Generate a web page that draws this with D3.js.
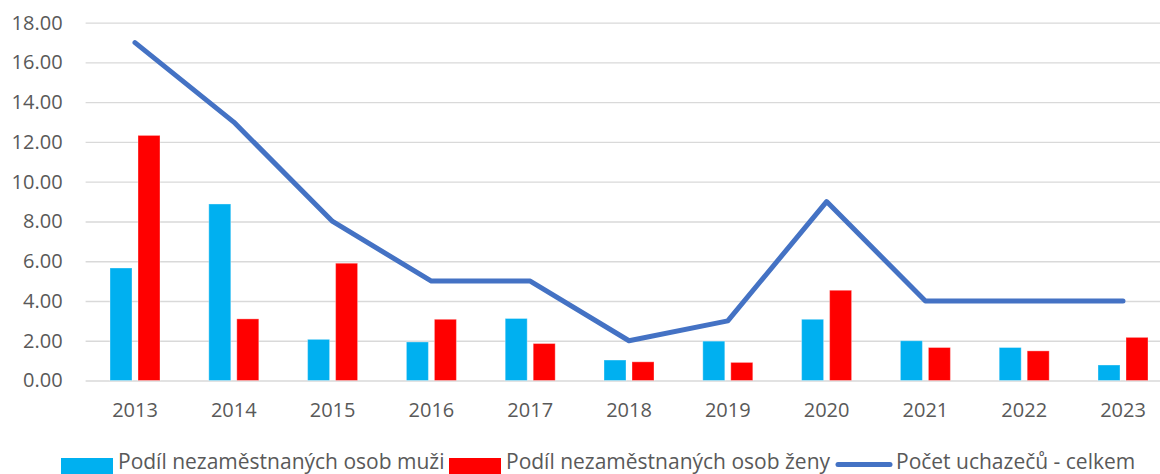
<!DOCTYPE html>
<html>
<head>
<meta charset="utf-8">
<script src="https://cdn.jsdelivr.net/npm/d3@7"></script>
<style>
  body { margin: 0; background: #fff; }
  svg text { font-family: "Open Sans", sans-serif; fill: #595959; }
</style>
</head>
<body>
<div id="chart"></div>
<script>
// data
var years = ["2013", "2014", "2015", "2016", "2017", "2018", "2019", "2020", "2021", "2022", "2023"];
var muzi  = [5.66, 8.88, 2.07, 1.94, 3.12, 1.03, 1.98, 3.08, 2.00, 1.66, 0.78];
var zeny  = [12.33, 3.10, 5.90, 3.08, 1.86, 0.94, 0.91, 4.54, 1.66, 1.49, 2.17];
var celkem = [17, 13, 8, 5, 5, 2, 3, 9, 4, 4, 4];
var yTicks = [0, 2, 4, 6, 8, 10, 12, 14, 16, 18];
var seriesNames = ["Podíl nezaměstnaných osob muži", "Podíl nezaměstnaných osob ženy", "Počet uchazečů - celkem"];

var width = 1160, height = 474;
var colMuzi = "#00b0f0", colZeny = "#ff0000", colLine = "#4472c4";

var svg = d3.select("#chart").append("svg")
    .attr("width", width)
    .attr("height", height);

var x0 = d3.scaleBand().domain(years).range([85.6, 1172.4]);
var x1 = d3.scaleBand().domain(["m", "z"])
    .range([24.4, 74.4])
    .paddingInner(6 / 28);

var y = d3.scaleLinear().domain([0, 18]).range([380.5, 22.7]);

// gridlines + y labels
var yAxis = d3.axisLeft(y)
    .tickValues(yTicks)
    .tickFormat(d3.format(".2f"))
    .tickSize(-(width - 85.6))
    .tickPadding(23);

svg.append("g")
    .attr("class", "y axis")
    .attr("transform", "translate(85.6,0)")
    .call(yAxis)
    .call(function(g) {
      g.select(".domain").remove();
      g.selectAll("line").attr("stroke", "#d9d9d9").attr("stroke-width", 1.3);
      g.selectAll("text").attr("font-size", 20).attr("fill", "#595959");
    });

// x labels
var xAxis = d3.axisBottom(x0).tickSize(0).tickPadding(22);
svg.append("g")
    .attr("class", "x axis")
    .attr("transform", "translate(0,380.5)")
    .call(xAxis)
    .call(function(g) {
      g.select(".domain").remove();
      g.selectAll("text").attr("font-size", 20).attr("fill", "#595959");
    });

// bars
var rows = years.map(function(yr, i) {
  return {year: yr, vals: [{k: "m", v: muzi[i], c: colMuzi}, {k: "z", v: zeny[i], c: colZeny}]};
});

svg.append("g").selectAll("g")
    .data(rows)
    .enter()
    .append("g")
    .attr("transform", function(d) { return "translate(" + x0(d.year) + ",0)"; })
    .selectAll("rect")
    .data(function(d) { return d.vals; })
    .enter()
    .append("rect")
    .attr("x", function(d) { return x1(d.k); })
    .attr("width", x1.bandwidth())
    .attr("y", function(d) { return y(d.v); })
    .attr("height", function(d) { return y(0) - y(d.v); })
    .attr("fill", function(d) { return d.c; })
    .attr("stroke", "#ffffff")
    .attr("stroke-opacity", 0.35)
    .attr("stroke-width", 1);

// line
var line = d3.line()
    .x(function(d, i) { return x0(years[i]) + x0.bandwidth() / 2; })
    .y(function(d) { return y(d); });

svg.append("path")
    .datum(celkem)
    .attr("d", line)
    .attr("fill", "none")
    .attr("stroke", colLine)
    .attr("stroke-width", 5)
    .attr("stroke-linecap", "round")
    .attr("stroke-linejoin", "round");

// legend
var legend = svg.append("g").attr("class", "legend");
var lx = [61, 449, 836];

legend.append("rect").attr("x", lx[0]).attr("y", 458).attr("width", 52).attr("height", 16).attr("fill", colMuzi);
legend.append("rect").attr("x", lx[1]).attr("y", 458).attr("width", 52).attr("height", 16).attr("fill", colZeny);
legend.append("line")
    .attr("x1", lx[2] + 2).attr("x2", lx[2] + 54)
    .attr("y1", 464.5).attr("y2", 464.5)
    .attr("stroke", colLine).attr("stroke-width", 5).attr("stroke-linecap", "round");

legend.selectAll("text")
    .data(seriesNames)
    .enter()
    .append("text")
    .attr("x", function(d, i) { return lx[i] + (i == 2 ? 60 : 57); })
    .attr("y", 468.5)
    .attr("font-size", 21)
    .attr("fill", "#595959")
    .text(function(d) { return d; });
</script>
</body>
</html>
